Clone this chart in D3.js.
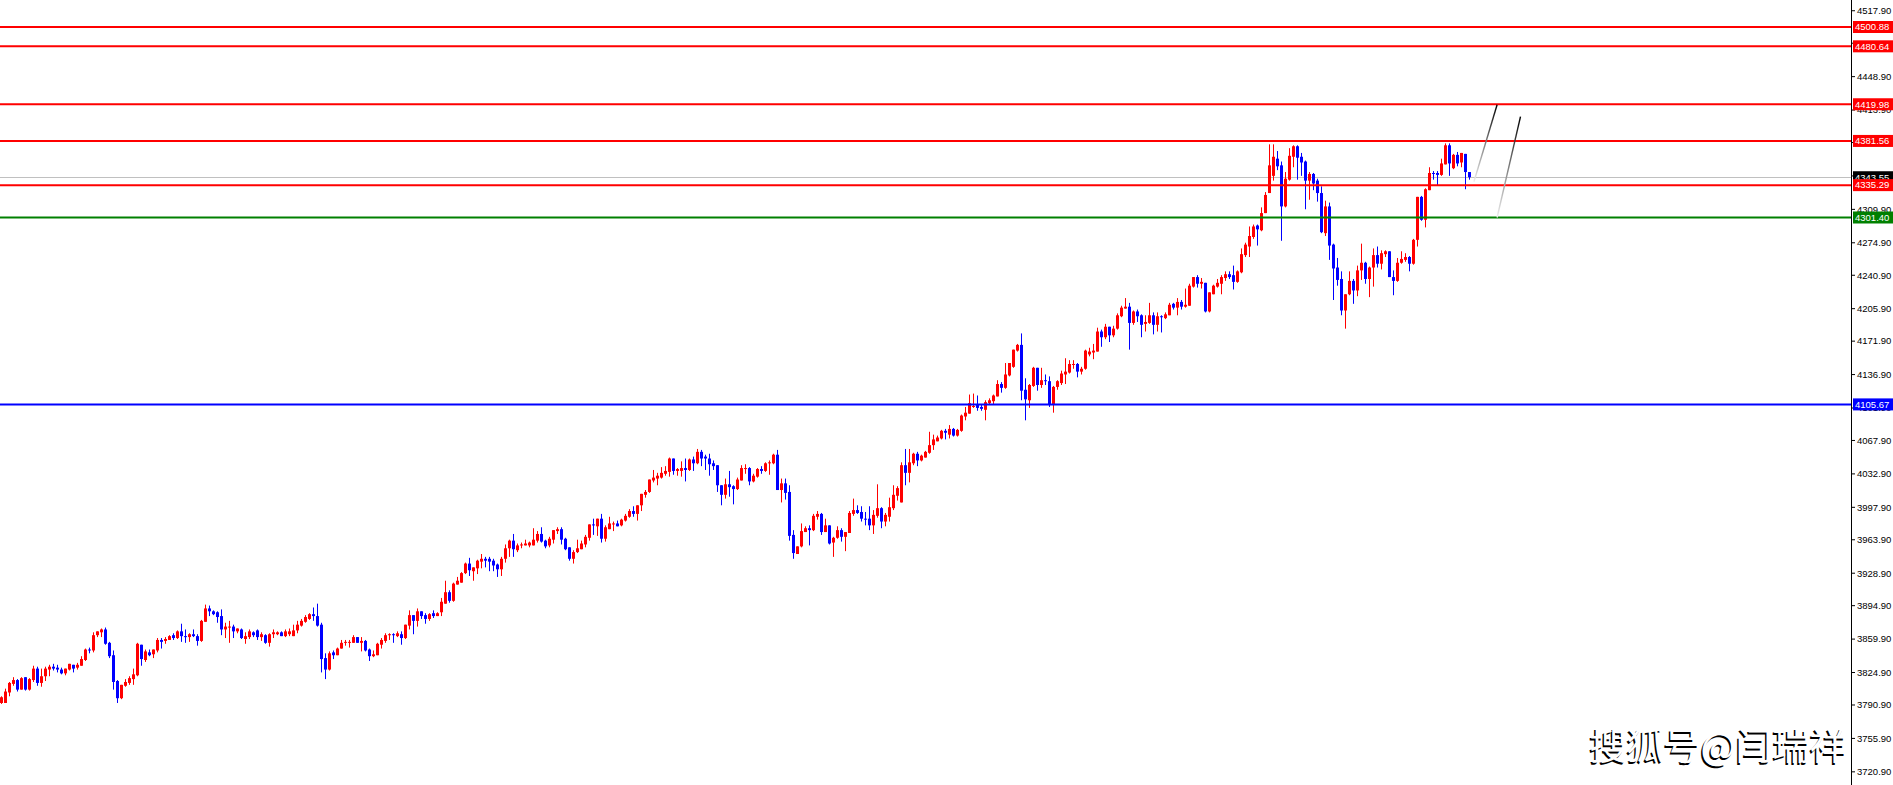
<!DOCTYPE html>
<html>
  <head>
    <title>Candlestick chart</title>
    <meta charset="UTF-8">
    <style>
      body { margin: 0; background: #fff; overflow: hidden; }
      svg { display: block; }
    </style>
  </head>
  <body>
    <svg id="chart"></svg>

    <script src="https://d3js.org/d3.v7.min.js" charset="utf-8"></script>
    <script>

/* DATA */

// one candle per bar, oldest first
var opens = [
  3793,3793,3804,3813,3817,3807,3820,3807,3817,3829, 3814,3821,3828,3831,3830,3828,3824,3828,3833,3830,
  3832,3838,3849,3848,3864,3867,3870,3856,3843,3816, 3798,3811,3814,3818,3822,3854,3838,3846,3844,3848,
  3859,3858,3859,3864,3861,3868,3863,3862,3865,3863, 3858,3878,3892,3889,3888,3884,3870,3872,3873,3868,
  3870,3860,3862,3867,3869,3862,3864,3856,3865,3865, 3867,3863,3865,3863,3869,3874,3878,3881,3886,3884,
  3875,3840,3828,3846,3843,3850,3856,3856,3856,3862, 3856,3858,3849,3842,3843,3854,3858,3864,3865,3863,
  3865,3861,3874,3885,3879,3889,3885,3881,3887,3884, 3888,3897,3909,3900,3917,3919,3929,3939,3931,3934,
  3941,3944,3944,3942,3938,3933,3944,3955,3963,3953, 3958,3958,3958,3958,3963,3970,3963,3958,3964,3973,
  3975,3965,3956,3944,3951,3954,3959,3966,3980,3978, 3986,3965,3975,3980,3981,3979,3984,3988,3994,3991,
  4000,4011,4014,4026,4028,4029,4033,4035,4049,4036, 4036,4039,4037,4048,4044,4056,4051,4049,4044,4042,
  4021,4011,4022,4020,4017,4026,4038,4039,4025,4030, 4038,4036,4044,4044,4053,4016,4023,4014,3969,3949,
  3957,3972,3976,3974,3988,3991,3972,3979,3961,3966, 3974,3967,3971,3991,3995,3993,3986,3986,3979,3989,
  3997,3983,3988,3997,4010,4003,4042,4034,4044,4054, 4047,4050,4055,4063,4067,4070,4078,4074,4080,4073,
  4078,4093,4096,4103,4105,4103,4100,4107,4109,4114, 4127,4123,4136,4145,4162,4168,4121,4110,4125,4144,
  4126,4131,4130,4105,4124,4128,4137,4139,4147,4148, 4140,4143,4158,4160,4161,4182,4176,4187,4178,4185,
  4198,4206,4208,4191,4203,4199,4190,4191,4199,4189, 4198,4196,4199,4211,4207,4213,4208,4209,4229,4239,
  4232,4233,4203,4221,4229,4232,4238,4242,4241,4234, 4244,4262,4271,4281,4293,4288,4306,4327,4345,4363,
  4356,4313,4341,4365,4376,4365,4360,4340,4347,4340, 4327,4285,4313,4273,4249,4237,4204,4221,4235,4225,
  4246,4254,4237,4249,4262,4253,4263,4266,4239,4235, 4254,4257,4260,4253,4278,4323,4299,4330,4348,4348,
  4346,4357,4377,4353,4367,4359,4368,4349
];

var highs = [
  3800,3808,3815,3820,3818,3820,3820,3819,3832,3831, 3829,3831,3833,3834,3833,3830,3829,3834,3833,3835,
  3842,3850,3851,3867,3868,3871,3872,3857,3848,3817, 3812,3818,3821,3829,3856,3854,3849,3849,3849,3861,
  3861,3862,3864,3866,3869,3876,3870,3866,3870,3865, 3880,3896,3895,3890,3889,3891,3877,3879,3875,3871,
  3871,3867,3870,3868,3870,3867,3865,3866,3870,3868, 3868,3870,3871,3875,3879,3881,3885,3887,3893,3897,
  3877,3845,3847,3848,3851,3859,3859,3859,3864,3862, 3862,3859,3850,3848,3856,3861,3866,3866,3866,3868,
  3868,3875,3890,3885,3892,3889,3887,3887,3890,3888, 3903,3921,3911,3919,3925,3930,3940,3945,3935,3943,
  3949,3946,3946,3944,3939,3946,3959,3964,3970,3960, 3961,3964,3962,3976,3973,3977,3964,3967,3974,3977,
  3977,3966,3956,3953,3964,3963,3969,3980,3986,3986, 3991,3979,3988,3983,3984,3986,3991,3996,3999,4000,
  4012,4016,4027,4037,4034,4040,4041,4050,4049,4039, 4046,4049,4049,4051,4059,4058,4053,4054,4047,4042,
  4021,4028,4036,4021,4029,4042,4043,4040,4033,4039, 4041,4045,4047,4054,4058,4028,4028,4021,3974,3957,
  3981,3978,3979,3991,3994,3992,3986,3979,3967,3978, 3976,3972,3994,4007,4000,3999,3993,3999,3995,4022,
  3998,3992,4008,4021,4020,4045,4059,4059,4055,4056, 4053,4057,4077,4074,4073,4079,4080,4084,4081,4080,
  4095,4103,4116,4117,4115,4105,4110,4112,4116,4131, 4129,4149,4149,4163,4169,4180,4133,4127,4145,4144,
  4144,4137,4135,4125,4131,4141,4154,4152,4152,4149, 4145,4163,4165,4169,4186,4184,4190,4187,4188,4201,
  4209,4217,4212,4204,4205,4200,4199,4212,4202,4202, 4199,4202,4212,4212,4217,4215,4227,4232,4239,4241,
  4238,4233,4223,4231,4237,4241,4245,4245,4251,4246, 4269,4275,4292,4294,4294,4312,4328,4378,4378,4371,
  4360,4349,4374,4377,4377,4369,4361,4349,4348,4342, 4334,4319,4317,4274,4259,4245,4221,4245,4237,4251,
  4274,4255,4250,4269,4271,4267,4267,4266,4246,4259, 4266,4264,4261,4279,4323,4324,4332,4354,4350,4350,
  4363,4379,4379,4368,4370,4369,4368,4349
];

var lows = [
  3792,3793,3800,3811,3805,3807,3806,3806,3815,3811, 3810,3816,3821,3827,3825,3823,3822,3827,3825,3828,
  3832,3837,3845,3846,3862,3862,3854,3840,3807,3793, 3797,3810,3812,3812,3821,3832,3836,3842,3840,3846,
  3850,3855,3859,3859,3860,3857,3856,3857,3862,3853, 3857,3878,3884,3885,3877,3864,3861,3856,3861,3866,
  3860,3855,3860,3862,3859,3858,3855,3852,3861,3864, 3863,3862,3863,3863,3866,3873,3877,3880,3879,3873,
  3825,3818,3827,3839,3843,3850,3853,3851,3856,3856, 3847,3847,3837,3841,3843,3850,3856,3859,3856,3862,
  3854,3860,3870,3865,3873,3881,3876,3879,3882,3884, 3884,3897,3898,3899,3917,3919,3928,3926,3921,3928,
  3934,3935,3931,3931,3925,3926,3940,3946,3946,3951, 3955,3958,3956,3958,3961,3961,3955,3956,3960,3970,
  3959,3953,3942,3939,3950,3954,3956,3963,3969,3968, 3961,3962,3975,3973,3978,3978,3983,3987,3988,3984,
  3994,4008,4013,4024,4021,4028,4031,4030,4032,4031, 4030,4025,4036,4036,4043,4041,4037,4031,4037,4014,
  4000,4007,4009,4001,4016,4026,4033,4021,4024,4029, 4033,4035,4032,4043,4016,4003,4006,3963,3944,3949,
  3956,3972,3958,3973,3985,3969,3972,3959,3946,3965, 3962,3952,3971,3989,3991,3983,3979,3974,3970,3987,
  3976,3978,3983,3995,4005,4003,4021,4024,4042,4041, 4046,4050,4054,4058,4067,4069,4069,4070,4072,4072,
  4077,4089,4096,4102,4099,4099,4089,4105,4106,4114, 4118,4122,4135,4144,4161,4110,4089,4102,4124,4120,
  4123,4126,4103,4097,4121,4126,4127,4138,4143,4134, 4137,4142,4156,4153,4161,4166,4174,4171,4176,4184,
  4197,4206,4163,4189,4192,4176,4182,4190,4179,4182, 4181,4195,4199,4205,4199,4205,4207,4209,4228,4228,
  4227,4202,4202,4221,4228,4221,4235,4237,4226,4233, 4243,4260,4260,4279,4272,4287,4306,4327,4340,4351,
  4277,4312,4340,4354,4341,4345,4310,4320,4330,4318, 4285,4282,4257,4215,4230,4199,4185,4220,4211,4219,
  4236,4232,4218,4229,4249,4247,4260,4239,4220,4234, 4253,4255,4245,4252,4271,4298,4291,4330,4341,4335,
  4345,4357,4345,4352,4355,4354,4331,4341
];

var closes = [
  3799,3805,3814,3817,3807,3819,3807,3818,3829,3814, 3821,3829,3831,3829,3828,3824,3829,3834,3829,3833,
  3839,3849,3848,3864,3868,3870,3855,3842,3815,3798, 3812,3815,3819,3823,3855,3839,3847,3843,3849,3859,
  3857,3860,3863,3861,3868,3863,3862,3865,3863,3858, 3879,3892,3889,3886,3883,3870,3873,3873,3868,3871,
  3861,3863,3868,3864,3862,3865,3856,3865,3867,3867, 3863,3868,3868,3869,3875,3879,3883,3886,3884,3874,
  3839,3828,3845,3843,3850,3856,3857,3857,3862,3856, 3858,3848,3842,3844,3855,3859,3864,3865,3864,3866,
  3861,3875,3885,3879,3889,3884,3881,3886,3884,3887, 3899,3909,3900,3918,3921,3929,3939,3932,3935,3942,
  3944,3942,3941,3937,3933,3944,3955,3963,3954,3958, 3959,3960,3961,3964,3970,3962,3957,3965,3974,3975,
  3964,3954,3944,3951,3955,3960,3967,3980,3979,3986, 3965,3977,3981,3981,3978,3985,3989,3994,3991,4000,
  4012,4014,4027,4029,4031,4034,4036,4049,4036,4038, 4039,4037,4048,4044,4056,4049,4049,4043,4041,4021,
  4011,4022,4019,4017,4027,4039,4039,4025,4031,4038, 4036,4044,4045,4053,4016,4023,4013,3968,3950,3957,
  3973,3976,3974,3989,3991,3972,3979,3960,3966,3974, 3967,3972,3992,3995,3992,3986,3985,3979,3990,3997,
  3983,3990,3998,4011,4018,4042,4034,4045,4054,4047, 4052,4056,4063,4069,4071,4078,4076,4080,4073,4079,
  4094,4097,4107,4104,4102,4101,4108,4110,4115,4127, 4123,4137,4149,4163,4168,4120,4111,4126,4144,4126,
  4131,4130,4105,4124,4130,4138,4140,4148,4148,4140, 4143,4162,4161,4162,4182,4176,4187,4178,4185,4199,
  4207,4208,4191,4203,4198,4189,4192,4199,4189,4198, 4197,4200,4210,4207,4213,4208,4210,4230,4239,4232,
  4234,4203,4223,4230,4233,4239,4242,4239,4234,4245, 4263,4273,4282,4292,4289,4306,4325,4356,4365,4355,
  4313,4342,4366,4376,4364,4359,4340,4347,4337,4327, 4286,4313,4272,4248,4236,4204,4221,4235,4225,4246,
  4254,4237,4249,4262,4253,4264,4266,4239,4235,4254, 4258,4260,4253,4278,4323,4299,4331,4348,4347,4346,
  4358,4377,4358,4367,4358,4369,4349,4343.55
];

// horizontal price levels drawn on the chart
var levelPrices = [4500.88, 4480.64, 4419.98, 4381.56, 4335.29, 4301.40, 4105.67];
var levelColors = ["#ff0000", "#ff0000", "#ff0000", "#ff0000", "#ff0000", "#008000", "#0000ff"];

var bidPrice = 4343.55;

// price axis labels
var tickValues = [4517.90, 4483.90, 4448.90, 4413.90, 4379.90, 4344.90, 4309.90, 4274.90, 4240.90,
  4205.90, 4171.90, 4136.90, 4101.90, 4067.90, 4032.90, 3997.90, 3963.90, 3928.90, 3894.90,
  3859.90, 3824.90, 3790.90, 3755.90, 3720.90];

// two hand-drawn trend lines: [bar index, price]
var trendA = [[368.1, 4338.9], [373.9, 4419.5]];
var trendB = [[373.9, 4301.4], [379.75, 4407.0]];

var watermark = "搜狐号@闫瑞祥";

/* CHART */

const W = 1893, H = 785, axisX = 1851.5;

const x = d3.scaleLinear().domain([0, 1]).range([1.5, 5.5]);        // 4px per bar
const y = d3.scaleLinear().domain([4105.67, 4500.88]).range([404.4, 27]);

const svg = d3.select("#chart")
    .attr("width", W)
    .attr("height", H)
    .style("font-family", "'Liberation Sans', Arial, sans-serif");

svg.append("rect").attr("width", W).attr("height", H).attr("fill", "#fff");

svg.append("clipPath").attr("id", "plot")
  .append("rect").attr("x", 0).attr("y", 0).attr("width", axisX).attr("height", H);

const plot = svg.append("g").attr("clip-path", "url(#plot)");

// bid line sits behind the bars
plot.append("line")
    .attr("x1", 0).attr("x2", axisX)
    .attr("y1", Math.round(y(bidPrice)) + 0.5).attr("y2", Math.round(y(bidPrice)) + 0.5)
    .attr("stroke", "#c0c0c0").attr("stroke-width", 1);

const bars = d3.range(closes.length).map((i) => ({
  i: i, o: opens[i], h: highs[i], l: lows[i], c: closes[i]
}));

const colorOf = (d) => d.c >= d.o ? "#ff0000" : "#0000ff";

const candle = plot.append("g").selectAll("g")
    .data(bars)
  .enter().append("g");

candle.append("line")
    .attr("x1", (d) => x(d.i)).attr("x2", (d) => x(d.i))
    .attr("y1", (d) => y(d.h)).attr("y2", (d) => y(d.l))
    .attr("stroke", colorOf).attr("stroke-width", 1);

candle.append("rect")
    .attr("x", (d) => x(d.i) - 1.5)
    .attr("width", 3)
    .attr("y", (d) => y(Math.max(d.o, d.c)))
    .attr("height", (d) => Math.max(1, Math.abs(y(d.o) - y(d.c))))
    .attr("fill", colorOf);

// level lines on top of the bars
plot.append("g").selectAll("line")
    .data(levelPrices)
  .enter().append("line")
    .attr("x1", 0).attr("x2", axisX)
    .attr("y1", (d) => y(d)).attr("y2", (d) => y(d))
    .attr("stroke", (d, i) => levelColors[i])
    .attr("stroke-width", 2);

// trend lines, fading out toward their lower end
const defs = svg.append("defs");
[trendA, trendB].forEach(function(t, k){
  const g = defs.append("linearGradient")
      .attr("id", "fade" + k)
      .attr("gradientUnits", "userSpaceOnUse")
      .attr("x1", x(t[0][0])).attr("y1", y(t[0][1]))
      .attr("x2", x(t[1][0])).attr("y2", y(t[1][1]));
  g.append("stop").attr("offset", "0").attr("stop-color", "#eeeeee");
  g.append("stop").attr("offset", "0.45").attr("stop-color", "#8a8a8a");
  g.append("stop").attr("offset", "1").attr("stop-color", "#000000");

  plot.append("line")
      .attr("x1", x(t[0][0])).attr("y1", y(t[0][1]))
      .attr("x2", x(t[1][0])).attr("y2", y(t[1][1]))
      .attr("stroke", "url(#fade" + k + ")")
      .attr("stroke-width", 1.4);
});

/* PRICE AXIS */

svg.append("line")
    .attr("x1", axisX).attr("x2", axisX)
    .attr("y1", 0).attr("y2", H)
    .attr("stroke", "#000").attr("stroke-width", 1);

const ticks = svg.append("g").selectAll("g")
    .data(tickValues)
  .enter().append("g")
    .attr("transform", (d) => "translate(0," + y(d) + ")");

ticks.append("line")
    .attr("x1", axisX).attr("x2", axisX + 3.5)
    .attr("stroke", "#000");

ticks.append("text")
    .attr("x", 1857)
    .attr("dy", "0.35em")
    .attr("font-size", "9.5px")
    .attr("fill", "#000")
    .text((d) => d.toFixed(2));

// current price tag goes under the level tags
const tagData = [{p: bidPrice, c: "#000000"}].concat(
  levelPrices.map((p, i) => ({p: p, c: levelColors[i]})));

const tags = svg.append("g").selectAll("g")
    .data(tagData)
  .enter().append("g")
    .attr("transform", (d) => "translate(0," + y(d.p) + ")");

tags.append("rect")
    .attr("x", axisX + 1.5).attr("y", -6)
    .attr("width", W - axisX).attr("height", 12)
    .attr("fill", (d) => d.c);

tags.append("text")
    .attr("x", 1855)
    .attr("dy", "0.35em")
    .attr("font-size", "9.5px")
    .attr("fill", "#fff")
    .text((d) => d.p.toFixed(2));

/* WATERMARK */

const wm = svg.append("g")
    .attr("font-family", "'Noto Sans CJK SC', sans-serif")
    .attr("font-size", "37px")
    .attr("text-anchor", "end");

wm.append("text")
    .attr("x", 1845).attr("y", 761.5)
    .attr("fill", "#000")
    .text(watermark);

wm.append("text")
    .attr("x", 1846.5).attr("y", 760)
    .attr("fill", "#fff")
    .text(watermark);

    </script>
  </body>
</html>
